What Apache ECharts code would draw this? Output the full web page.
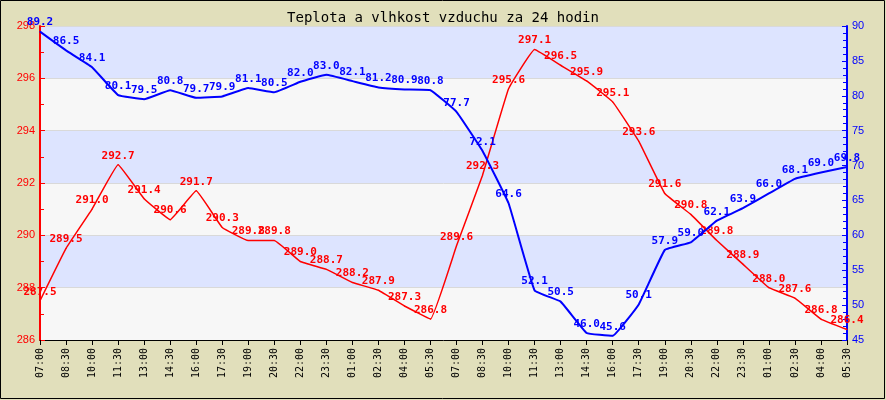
<!DOCTYPE html>
<html>
<head>
<meta charset="utf-8">
<script src="https://cdn.jsdelivr.net/npm/echarts@6/dist/echarts.min.js"></script>
<style>
  body { margin: 0; }
  #chart { width: 886px; height: 400px; }
</style>
</head>
<body>
<div id="chart"></div>
<script>
const times = ["07:00", "08:30", "10:00", "11:30", "13:00", "14:30", "16:00", "17:30",
  "19:00", "20:30", "22:00", "23:30", "01:00", "02:30", "04:00", "05:30",
  "07:00", "08:30", "10:00", "11:30", "13:00", "14:30", "16:00", "17:30",
  "19:00", "20:30", "22:00", "23:30", "01:00", "02:30", "04:00", "05:30"];
const temperature = [287.5, 289.5, 291.0, 292.7, 291.4, 290.6, 291.7, 290.3,
  289.8, 289.8, 289.0, 288.7, 288.2, 287.9, 287.3, 286.8,
  289.6, 292.3, 295.6, 297.1, 296.5, 295.9, 295.1, 293.6,
  291.6, 290.8, 289.8, 288.9, 288.0, 287.6, 286.8, 286.4];
const humidity = [89.2, 86.5, 84.1, 80.1, 79.5, 80.8, 79.7, 79.9,
  81.1, 80.5, 82.0, 83.0, 82.1, 81.2, 80.9, 80.8,
  77.7, 72.1, 64.6, 52.1, 50.5, 46.0, 45.6, 50.1,
  57.9, 59.0, 62.1, 63.9, 66.0, 68.1, 69.0, 69.8];

const chart = echarts.init(document.getElementById("chart"), null, { renderer: "canvas" });

const labelFont = {
  fontFamily: "DejaVu Sans Mono",
  fontWeight: "bold",
  fontSize: 11,
};

const option = {
  backgroundColor: "#e1dfbb",
  animation: false,
  title: {
    text: "Teplota a vlhkost vzduchu za 24 hodin",
    left: "center",
    top: 6,
    textStyle: {
      fontFamily: "DejaVu Sans Mono",
      fontWeight: "normal",
      fontSize: 14,
      color: "#000",
    },
  },
  graphic: [
    {
      type: "rect",
      shape: { x: 0.5, y: 0.5, width: 884, height: 398 },
      style: { fill: null, stroke: "#000", lineWidth: 1 },
      z: 100,
    },
  ],
  grid: {
    left: 40,
    right: 39,
    top: 26,
    bottom: 60,
  },
  xAxis: {
    type: "category",
    boundaryGap: false,
    data: times,
    axisLine: { lineStyle: { color: "#000", width: 1 } },
    axisTick: { show: true, interval: 0, length: 5, lineStyle: { color: "#000" } },
    axisLabel: {
      interval: 0,
      rotate: 90,
      margin: 8,
      color: "#000",
      fontFamily: "DejaVu Sans Mono",
      fontSize: 10,
    },
  },
  yAxis: [
    {
      type: "value",
      min: 286,
      max: 298,
      interval: 2,
      position: "left",
      axisLine: { show: true, lineStyle: { color: "#ff0000", width: 2 } },
      axisTick: { show: true, inside: true, length: 5, lineStyle: { color: "#ff0000" } },
      minorTick: { show: true, splitNumber: 2, length: 4, lineStyle: { color: "#ff0000" } },
      axisLabel: {
        color: "#ff0000",
        fontFamily: "Liberation Sans",
        fontSize: 11,
        margin: 5,
      },
      splitLine: { show: true, lineStyle: { color: "#d9d9d9", width: 1 } },
      splitArea: { show: true, areaStyle: { color: ["#f7f7f7", "#dde4ff"] } },
    },
    {
      type: "value",
      min: 45,
      max: 90,
      interval: 5,
      position: "right",
      axisLine: { show: true, lineStyle: { color: "#0000ff", width: 2 } },
      axisTick: { show: true, inside: true, length: 5, lineStyle: { color: "#0000ff" } },
      minorTick: { show: true, splitNumber: 5, length: 4, lineStyle: { color: "#0000ff" } },
      axisLabel: {
        color: "#0000ff",
        fontFamily: "Liberation Sans",
        fontSize: 11,
        margin: 5,
      },
      splitLine: { show: false },
    },
  ],
  series: [
    {
      name: "Teplota",
      type: "line",
      yAxisIndex: 0,
      data: temperature,
      smooth: 0.08,
      symbol: "circle",
      symbolSize: 1,
      itemStyle: { color: "#ff0000" },
      lineStyle: { color: "#ff0000", width: 1.5 },
      label: {
        show: true,
        position: "top",
        distance: 3,
        color: "#ff0000",
        formatter: (p) => p.value.toFixed(1),
        ...labelFont,
      },
      z: 3,
    },
    {
      name: "Vlhkost",
      type: "line",
      yAxisIndex: 1,
      data: humidity,
      smooth: 0.08,
      symbol: "circle",
      symbolSize: 1,
      itemStyle: { color: "#0000ff" },
      lineStyle: { color: "#0000ff", width: 2 },
      label: {
        show: true,
        position: "top",
        distance: 3,
        color: "#0000ff",
        formatter: (p) => p.value.toFixed(1),
        ...labelFont,
      },
      z: 4,
    },
  ],
};

chart.setOption(option);
</script>
</body>
</html>
